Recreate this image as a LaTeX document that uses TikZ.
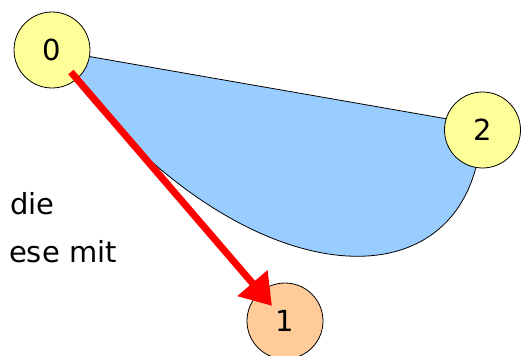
\documentclass[tikz,border=0pt]{standalone}
\usepackage{fontspec}
\setmainfont{DejaVu Sans}
\usetikzlibrary{arrows.meta}
\definecolor{nodeyellow}{RGB}{255,255,153}
\definecolor{nodepeach}{RGB}{255,204,153}
\definecolor{areablue}{RGB}{153,204,255}
\tikzset{
  vertex/.style={circle, draw=black, line width=0.8pt, minimum size=76pt, inner sep=0pt, font=\fontsize{29}{34}\selectfont},
  label text/.style={font=\fontsize{29}{34}\selectfont, inner sep=0pt},
  redarrow/.style={draw=red, line width=7pt, -{Triangle[length=30pt,width=38pt]}},
  area/.style={fill=areablue, draw=black, line width=0.8pt}
}
\begin{document}
\begin{tikzpicture}[x=1pt,y=-1pt]
\useasboundingbox (0,0) rectangle (523,356);
% area between nodes 0 and 2
\coordinate (c0) at (52,50);
\coordinate (c2) at (482,125);
\path[area] (c0) -- (c2) .. controls (475,320) and (230,300) .. (c0) -- cycle;
% nodes
\node[vertex, fill=nodeyellow] (n0) at (52,50) {0};
\node[vertex, fill=nodeyellow] (n2) at (482.5,130) {2};
\node[vertex, fill=nodepeach] (n1) at (285,321) {1};
% arrow
\draw[redarrow, shorten <=29pt, shorten >=20pt] (n0.center) -- (n1.center);
% text
\node[label text, anchor=base east] (t1) at (55,214) {die};
\node[label text, anchor=base east] (t2) at (117,262) {ese mit};
\end{tikzpicture}
\end{document}
